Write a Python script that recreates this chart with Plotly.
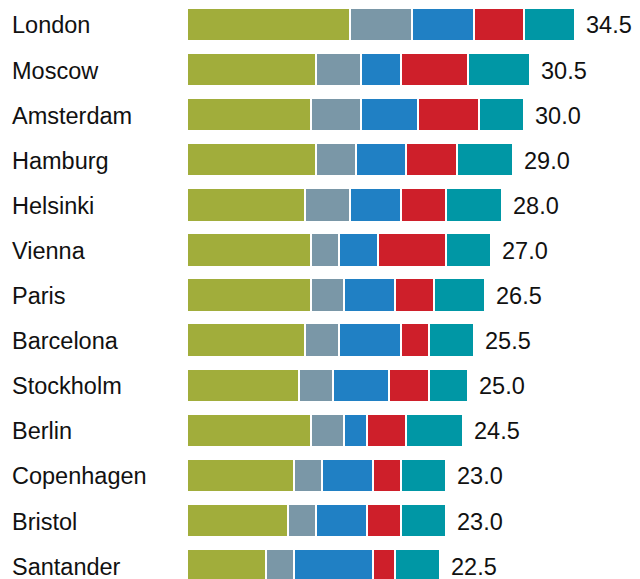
import plotly.graph_objects as go

cities = ["London", "Moscow", "Amsterdam", "Hamburg", "Helsinki", "Vienna", "Paris",
          "Barcelona", "Stockholm", "Berlin", "Copenhagen", "Bristol", "Santander"]
s1 = [14.5, 11.5, 11.0, 11.5, 10.5, 11.0, 11.0, 10.5, 10.0, 11.0, 9.5, 9.0, 7.0]
s2 = [5.5, 4.0, 4.5, 3.5, 4.0, 2.5, 3.0, 3.0, 3.0, 3.0, 2.5, 2.5, 2.5]
s3 = [5.5, 3.5, 5.0, 4.5, 4.5, 3.5, 4.5, 5.5, 5.0, 2.0, 4.5, 4.5, 7.0]
s4 = [4.5, 6.0, 5.5, 4.5, 4.0, 6.0, 3.5, 2.5, 3.5, 3.5, 2.5, 3.0, 2.0]
s5 = [4.5, 5.5, 4.0, 5.0, 5.0, 4.0, 4.5, 4.0, 3.5, 5.0, 4.0, 4.0, 4.0]
totals = [34.5, 30.5, 30.0, 29.0, 28.0, 27.0, 26.5, 25.5, 25.0, 24.5, 23.0, 23.0, 22.5]

series = [("Part 1", s1, "#A1AD3B"), ("Part 2", s2, "#7A97A7"), ("Part 3", s3, "#2080C4"),
          ("Part 4", s4, "#CE1F2A"), ("Part 5", s5, "#0097A5")]

fig = go.Figure()
for name, vals, col in series:
    fig.add_trace(go.Bar(y=cities, x=vals, orientation="h", name=name,
                         marker=dict(color=col, line=dict(color="white", width=2)),
                         hoverinfo="x+name"))

font = dict(family="Liberation Sans, Arial, sans-serif", size=23.5, color="#111111")
ann = []
for c, t in zip(cities, totals):
    ann.append(dict(x=t, y=c, xref="x", yref="y", text=f"{t:.1f}", showarrow=False,
                    xanchor="left", xshift=9, yshift=-1, font=font))
    ann.append(dict(x=0, y=c, xref="paper", yref="y", text=c, showarrow=False,
                    xanchor="left", xshift=-177, yshift=-1, font=font))

fig.update_layout(
    barmode="stack", bargap=0.26, width=632, height=579,
    margin=dict(l=179, r=0, t=0, b=0),
    plot_bgcolor="white", paper_bgcolor="white", showlegend=False,
    xaxis=dict(range=[0, 40.27], visible=False),
    yaxis=dict(range=[12.473, -0.365], showticklabels=False, showgrid=False,
               zeroline=False, categoryorder="array", categoryarray=cities),
    annotations=ann,
)
fig.write_html("out.html", default_width="632px", default_height="579px")
